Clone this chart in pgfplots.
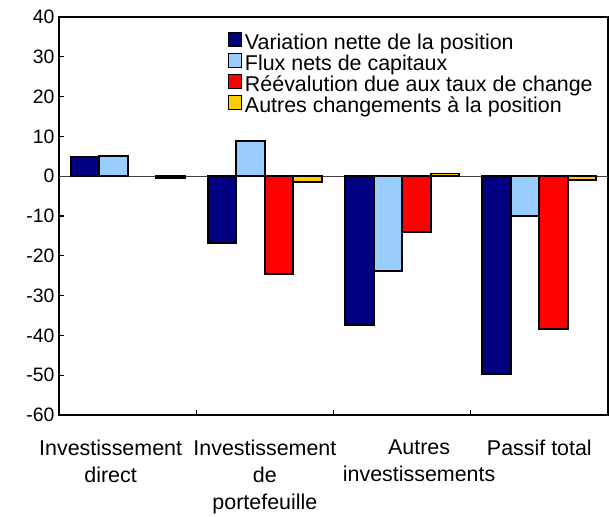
\documentclass[border=0pt]{standalone}
\usepackage{fontspec}
\setmainfont{Liberation Sans}
\usepackage{pgfplots}
\pgfplotsset{compat=1.18}
\definecolor{navyb}{RGB}{0,0,128}
\definecolor{lightb}{RGB}{153,204,255}
\definecolor{redb}{RGB}{255,0,0}
\definecolor{yelb}{RGB}{255,204,0}
\begin{document}
\begin{tikzpicture}
\begin{axis}[
  scale only axis, width=549bp, height=398bp,
  ymin=-60, ymax=40, ytick={-60,-50,...,40},
  xmin=-0.5, xmax=3.5,
  ybar=0pt, bar width=0.2077,
  axis line style={line width=1.4bp},
  tick align=inside, major tick length=5bp,
  every tick/.style={black, line width=1.2bp},
  xtick pos=bottom, ytick pos=left,
  xtick={0.5,1.5,2.5}, xticklabels={},
  extra x ticks={-0.124,1,2.124,3},
  extra x tick labels={Investissement\\direct, Investissement\\de\\portefeuille, Autres\\investissements, Passif total},
  extra x tick style={major tick length=0pt},
  xticklabel style={align=center, anchor=north, yshift=-21bp, font=\fontsize{21.5}{27.5}\selectfont},
  yticklabel style={font=\fontsize{19.5}{22}\selectfont, xshift=-1bp},
  /pgf/number format/assume math mode=true,
  extra y ticks={0}, extra y tick labels={},
  extra y tick style={grid=major, major grid style={black!75, line width=1bp}, major tick length=0pt},
  legend style={draw=none, fill=none, at={(0.308,0.963)}, anchor=north west,
    font=\fontsize{21.5}{22}\selectfont, row sep=0pt, inner sep=0pt,
    nodes={inner xsep=2.5bp, inner ysep=0bp, text height=13.5bp, text depth=3.5bp}},
  legend cell align=left,
  legend image code/.code={\draw[#1, draw=black, line width=1.2bp] (0bp,-1.5bp) rectangle (13bp,12bp);},
]
\addplot[draw=black, line width=1.8bp, fill=navyb] coordinates {(0,4.8) (1,-16.8) (2,-37.4) (3,-49.6)};
\addplot[draw=black, line width=1.8bp, fill=lightb] coordinates {(0,5.0) (1,8.8) (2,-23.9) (3,-10.0)};
\addplot[draw=black, line width=1.8bp, fill=redb] coordinates {(1,-24.6) (2,-14.1) (3,-38.4)};
\addplot[draw=black, line width=1.8bp, fill=yelb] coordinates {(0,-0.4) (1,-1.4) (2,0.7) (3,-1.0)};
\legend{Variation nette de la position, Flux nets de capitaux, Réévalution due aux taux de change, Autres changements à la position}
\end{axis}
\pgfresetboundingbox
\path ([xshift=-59bp,yshift=-102bp]current axis.south west) rectangle ([xshift=2bp,yshift=17bp]current axis.north east);
\end{tikzpicture}
\end{document}
